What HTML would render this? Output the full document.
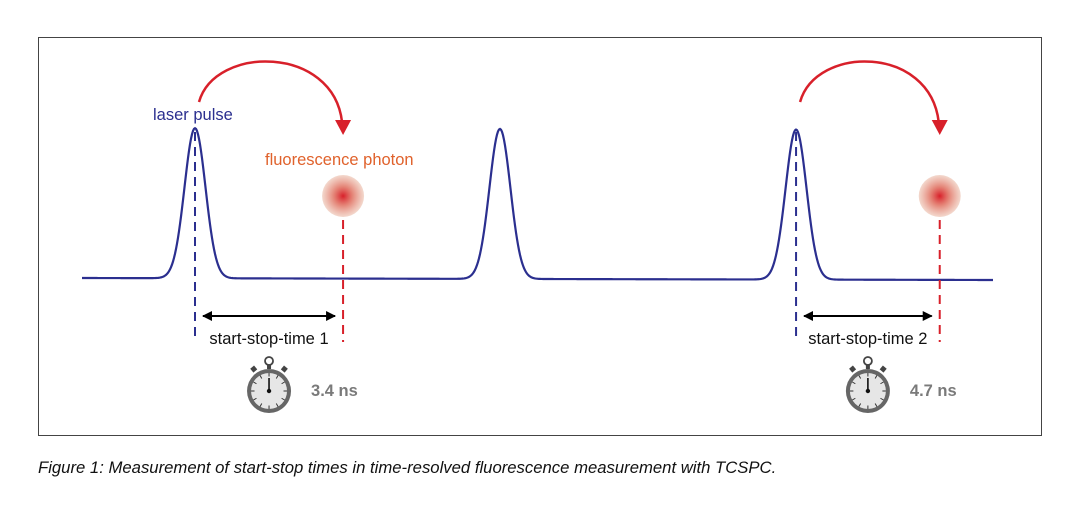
<!DOCTYPE html>
<html><head><meta charset="utf-8"><style>
body{margin:0;background:#fff;width:1067px;height:501px;overflow:hidden;font-family:"Liberation Sans",Arial,sans-serif}
</style></head><body>
<svg id="svg" width="1067" height="501" viewBox="0 0 1067 501" xmlns="http://www.w3.org/2000/svg">
<defs>
<radialGradient id="ph" cx="50%" cy="50%" r="50%">
<stop offset="0" stop-color="#d8202a"/><stop offset="0.45" stop-color="#e07060" stop-opacity="0.85"/><stop offset="1" stop-color="#eec8b8" stop-opacity="0.7"/>
</radialGradient>
<marker id="ah" viewBox="0 0 10 10" refX="9" refY="5" markerWidth="5" markerHeight="5" orient="auto-start-reverse"><path d="M0,0 L10,5 L0,10 z" fill="#000"/></marker>
</defs>
<rect x="38.5" y="37.5" width="1003" height="398" fill="none" stroke="#444" stroke-width="1"/>
<g id="plot"></g>
<text x="38" y="473" font-size="16.7" font-style="italic" fill="#111">Figure 1: Measurement of start-stop times in time-resolved fluorescence measurement with TCSPC.</text>
</svg>
<script>
const peakTimes = [0, 10.4, 20.5];
const photonTimes = [5.05, 25.4];
const measuredLabels = ["3.4 ns", "4.7 ns"];
const intervalLabels = ["start-stop-time 1", "start-stop-time 2"];
const startPeaks = [0, 2];

const NS = "http://www.w3.org/2000/svg";
const g = document.getElementById('plot');
const x = t => 195 + t * 29.32;
const baseY = 278, peakY = 128, sigma = 10.5;
function mk(tag, attrs, parent) {
  const e = document.createElementNS(NS, tag);
  for (const k in attrs) e.setAttribute(k, attrs[k]);
  (parent || g).appendChild(e);
  return e;
}
let d = "";
for (let px = 82; px <= 993; px += 1) {
  let y = baseY + (px - 82) / 911 * 2;
  peakTimes.forEach(t => { y -= (baseY - peakY) * Math.exp(-Math.pow(px - x(t), 2) / (2 * sigma * sigma)); });
  d += (px === 82 ? "M" : "L") + px + "," + y.toFixed(2);
}
const line = mk('path', {d: d, fill: 'none', stroke: '#2b2f8f', 'stroke-width': 2.2});



photonTimes.forEach((pt, i) => {
  const sx = x(peakTimes[startPeaks[i]]), ex = x(pt);
  const bd = mk('line', {x1: sx, y1: 132, x2: sx, y2: 342, stroke: '#2b2f8f', 'stroke-width': 2, 'stroke-dasharray': '9,6'});
  
  
  const rd = mk('line', {x1: ex, y1: 220, x2: ex, y2: 342, stroke: '#d8202a', 'stroke-width': 2, 'stroke-dasharray': '9,6'});
  
  
  const c = mk('circle', {cx: ex, cy: 196, r: 21, fill: 'url(#ph)'});
  
  
  const arc = mk('path', {d: `M${sx + 4},102 C${sx + 20},45 ${ex - 10},45 ${ex - 1},122`, fill: 'none', stroke: '#d8202a', 'stroke-width': 2.5});
  
  
  const head = mk('path', {d: `M${ex - 8},120 L${ex + 8},120 L${ex},135 z`, fill: '#d8202a'});
  
  
  const da = mk('line', {x1: sx + 8, y1: 316, x2: ex - 8, y2: 316, stroke: '#000', 'stroke-width': 2, 'marker-start': 'url(#ah)', 'marker-end': 'url(#ah)'});
  
  
  const mid = (sx + ex) / 2;
  const lt = mk('text', {x: mid, y: 344, 'font-size': 16.5, 'text-anchor': 'middle', fill: '#111'});
  lt.textContent = intervalLabels[i];
  
  
  const cx = mid, cy = 391;
  const sw = mk('g', {});
  
  
  mk('rect', {x: cx - 2, y: cy - 27, width: 4, height: 5, fill: '#444'}, sw);
  mk('circle', {cx: cx, cy: cy - 30, r: 4, fill: '#fff', stroke: '#444', 'stroke-width': 1.8}, sw);
  mk('rect', {x: cx - 18, y: cy - 24, width: 5, height: 5, fill: '#444', transform: `rotate(-40 ${cx - 16} ${cy - 22})`}, sw);
  mk('rect', {x: cx + 13, y: cy - 24, width: 5, height: 5, fill: '#444', transform: `rotate(40 ${cx + 16} ${cy - 22})`}, sw);
  mk('circle', {cx: cx, cy: cy, r: 22, fill: '#666'}, sw);
  mk('circle', {cx: cx, cy: cy, r: 18, fill: '#e6e6e6'}, sw);
  for (let k = 0; k < 12; k++) {
    const a = k * Math.PI / 6;
    mk('line', {x1: cx + 14.5 * Math.sin(a), y1: cy - 14.5 * Math.cos(a), x2: cx + 18 * Math.sin(a), y2: cy - 18 * Math.cos(a), stroke: '#333', 'stroke-width': 1}, sw);
  }
  mk('line', {x1: cx, y1: cy, x2: cx, y2: cy - 13, stroke: '#111', 'stroke-width': 1.6}, sw);
  mk('circle', {cx: cx, cy: cy, r: 2.2, fill: '#111'}, sw);
  const vt = mk('text', {x: cx + 42, y: cy + 5, 'font-size': 16.5, 'font-weight': 'bold', fill: '#7a7a7a'});
  vt.textContent = measuredLabels[i];
  
  
});
const lp = mk('text', {x: 153, y: 120, 'font-size': 16.5, fill: '#2b2f8f'});
lp.textContent = 'laser pulse';


const fp = mk('text', {x: 265, y: 165, 'font-size': 16.5, fill: '#e0622c'});
fp.textContent = 'fluorescence photon';


</script>
</body></html>
